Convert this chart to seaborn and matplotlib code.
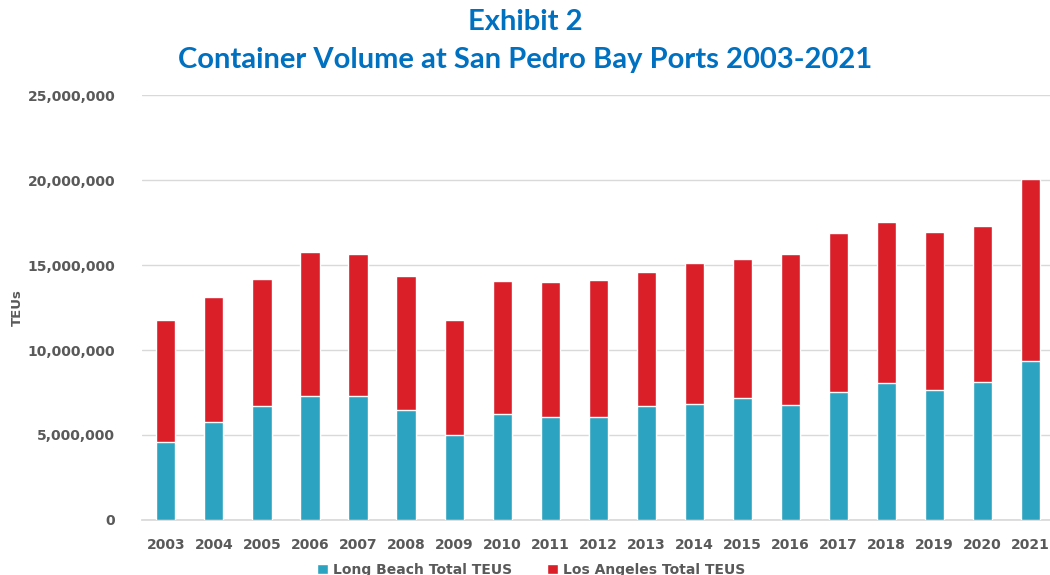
import matplotlib
matplotlib.use("Agg")
import matplotlib.pyplot as plt
import seaborn as sns
import pandas as pd
from matplotlib.ticker import FuncFormatter

# TEUs per year
years = ["2003", "2004", "2005", "2006", "2007", "2008", "2009", "2010", "2011", "2012",
         "2013", "2014", "2015", "2016", "2017", "2018", "2019", "2020", "2021"]
long_beach = [4_600_000, 5_770_000, 6_710_000, 7_280_000, 7_300_000, 6_480_000, 5_020_000,
              6_260_000, 6_060_000, 6_045_000, 6_720_000, 6_810_000, 7_180_000, 6_770_000,
              7_540_000, 8_080_000, 7_630_000, 8_105_000, 9_375_000]
los_angeles = [7_160_000, 7_320_000, 7_470_000, 8_460_000, 8_350_000, 7_845_000, 6_740_000,
               7_820_000, 7_930_000, 8_070_000, 7_865_000, 8_330_000, 8_160_000, 8_855_000,
               9_335_000, 9_455_000, 9_320_000, 9_200_000, 10_660_000]

df = pd.DataFrame({"Year": years, "Long Beach": long_beach, "Los Angeles": los_angeles})
df["Total"] = df["Long Beach"] + df["Los Angeles"]

sns.set_theme(style="white")
plt.rcParams["font.family"] = ["DejaVu Sans"]

teal = "#2CA3C0"
red = "#DA1F28"
grey = "#595959"

fig = plt.figure(figsize=(10.5, 5.75), dpi=100)
ax = fig.add_axes([0.135, 0.0957, 0.865, 0.739])

# stacked: full height in red, Long Beach drawn over it
sns.barplot(data=df, x="Year", y="Total", color=red, width=0.4, saturation=1,
            label="Los Angeles Total TEUS", ax=ax, zorder=2)
sns.barplot(data=df, x="Year", y="Long Beach", color=teal, width=0.4, saturation=1,
            label="Long Beach Total TEUS", ax=ax, zorder=3)
if ax.get_legend() is not None:
    ax.get_legend().remove()

ax.set_ylim(0, 25_000_000)
ax.set_xlim(-0.5, 18.4)
ax.set_yticks(range(0, 25_000_001, 5_000_000))
ax.yaxis.set_major_formatter(FuncFormatter(lambda v, p: f"{int(v):,}"))
ax.grid(axis="y", color="#d9d9d9", linewidth=1, zorder=0)
ax.set_axisbelow(True)
for side in ["top", "right", "left"]:
    ax.spines[side].set_visible(False)
ax.spines["bottom"].set_color("#d9d9d9")
ax.tick_params(axis="both", length=0, labelsize=10, labelcolor=grey)
ax.tick_params(axis="y", pad=19)
ax.tick_params(axis="x", pad=13)
for lab in ax.get_xticklabels() + ax.get_yticklabels():
    lab.set_fontweight("bold")

ax.set_xlabel("")
ax.set_ylabel("")
fig.text(0.017, 0.465, "TEUs", rotation=90, ha="center", va="center",
         fontsize=9.5, fontweight="bold", color=grey)

fig.text(0.5, 0.962, "Exhibit 2", ha="center", va="center", fontsize=21,
         fontweight="bold", color="#0070C0", family=["Lato", "DejaVu Sans"])
fig.text(0.5, 0.895, "Container Volume at San Pedro Bay Ports 2003-2021", ha="center",
         va="center", fontsize=21, fontweight="bold", color="#0070C0",
         family=["Lato", "DejaVu Sans"])

handles, labels = ax.get_legend_handles_labels()
order = [labels.index("Long Beach Total TEUS"), labels.index("Los Angeles Total TEUS")]
leg = fig.legend([handles[i] for i in order], [labels[i] for i in order],
                 loc="center", bbox_to_anchor=(0.506, 0.009), ncol=2, frameon=False,
                 handlelength=0.75, handleheight=0.75, handletextpad=0.4,
                 columnspacing=2.5, prop={"weight": "bold", "size": 10})
for t in leg.get_texts():
    t.set_color(grey)

fig.savefig("out.png", dpi=100)
